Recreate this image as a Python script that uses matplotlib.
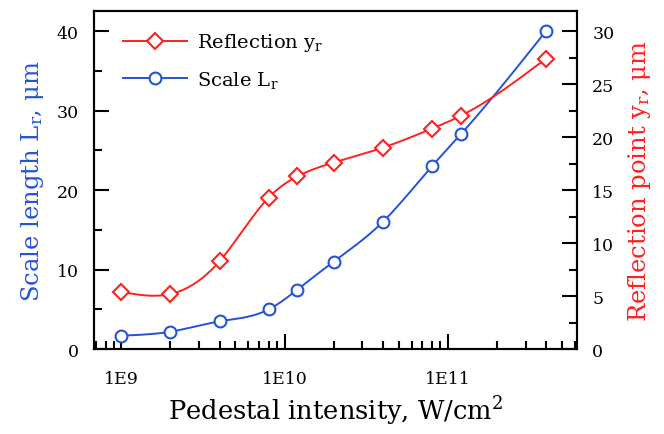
import numpy as np
import matplotlib
matplotlib.use('Agg')
import matplotlib.pyplot as plt
from matplotlib.ticker import LogLocator, FixedLocator, MultipleLocator, NullFormatter

# data
intensity = [1e9, 2e9, 4e9, 8e9, 1.2e10, 2e10, 4e10, 8e10, 1.2e11, 4e11]
scale_L = [1.7, 2.2, 3.5, 5.0, 7.5, 11.0, 16.0, 23.0, 27.0, 40.0]
refl_y = [5.4, 5.2, 8.3, 14.3, 16.3, 17.6, 19.0, 20.8, 22.0, 27.4]
xtick_vals = [1e9, 1e10, 1e11]
xtick_labels = ['1E9', '1E10', '1E11']

blue = '#2453d8'
red = '#ff2020'


def smooth(x, y, n=300):
    # natural cubic spline in log10(x), just for drawing the curve
    t = np.log10(np.asarray(x))
    y = np.asarray(y, dtype=float)
    m = len(t)
    h = np.diff(t)
    A = np.zeros((m, m))
    b = np.zeros(m)
    A[0, 0] = 1
    A[-1, -1] = 1
    for i in range(1, m - 1):
        A[i, i - 1] = h[i - 1]
        A[i, i] = 2 * (h[i - 1] + h[i])
        A[i, i + 1] = h[i]
        b[i] = 6 * ((y[i + 1] - y[i]) / h[i] - (y[i] - y[i - 1]) / h[i - 1])
    M = np.linalg.solve(A, b)
    tt = np.linspace(t[0], t[-1], n)
    k = np.clip(np.searchsorted(t, tt) - 1, 0, m - 2)
    dx1 = t[k + 1] - tt
    dx0 = tt - t[k]
    hk = h[k]
    yy = (M[k] * dx1 ** 3 / (6 * hk) + M[k + 1] * dx0 ** 3 / (6 * hk)
          + (y[k] / hk - M[k] * hk / 6) * dx1 + (y[k + 1] / hk - M[k + 1] * hk / 6) * dx0)
    return 10 ** tt, yy


plt.rcParams['font.family'] = 'DejaVu Serif'
plt.rcParams['mathtext.fontset'] = 'dejavuserif'

fig = plt.figure(figsize=(6.64, 4.35), dpi=100)
ax1 = fig.add_axes([0.1416, 0.195, 0.7274, 0.777])
ax2 = ax1.twinx()

mk = dict(mfc='white', mew=1.5)
xs, ys = smooth(intensity, scale_L)
ax1.plot(xs, ys, color=blue, lw=1.4)
ax1.plot(intensity, scale_L, ls='none', marker='o', ms=8.5, mec=blue, **mk)
ln_b, = ax1.plot([], [], color=blue, lw=1.4, marker='o', ms=8.5, mec=blue, **mk)

xs, ys = smooth(intensity, refl_y)
ax2.plot(xs, ys, color=red, lw=1.4)
ax2.plot(intensity, refl_y, ls='none', marker='D', ms=8.5, mec=red, **mk)
ln_r, = ax2.plot([], [], color=red, lw=1.4, marker='D', ms=8.5, mec=red, **mk)

ax1.set_xscale('log')
ax1.set_xlim(6.8e8, 6.2e11)
ax1.set_ylim(0, 42.5)
ax2.set_ylim(0, 31.875)

ax1.xaxis.set_major_locator(FixedLocator(xtick_vals))
ax1.set_xticklabels(xtick_labels)
ax1.xaxis.set_minor_locator(LogLocator(base=10, subs=np.arange(2, 10)))
ax1.xaxis.set_minor_formatter(NullFormatter())
ax1.yaxis.set_major_locator(MultipleLocator(10))
ax1.yaxis.set_minor_locator(MultipleLocator(5))
ax2.yaxis.set_major_locator(MultipleLocator(5))
ax2.yaxis.set_minor_locator(MultipleLocator(2.5))

for ax in (ax1, ax2):
    for s in ax.spines.values():
        s.set_linewidth(1.5)
    ax.tick_params(which='both', direction='in', labelsize=12.5, width=1.5, top=False)
    ax.tick_params(which='major', length=10.5)
    ax.tick_params(which='minor', length=5.5)
ax1.tick_params(axis='y', right=False, pad=11)
ax2.tick_params(axis='y', left=False, pad=11)
ax1.tick_params(axis='x', pad=15)

ax1.set_xlabel('Pedestal intensity, W/cm$^2$', fontsize=18.5, labelpad=5)
ax1.set_ylabel('Scale length L$_\\mathrm{r}$, μm', fontsize=17.5, color=blue, labelpad=8)
ax2.set_ylabel('Reflection point y$_\\mathrm{r}$, μm', fontsize=17.5, color=red, labelpad=8)

ax1.legend([ln_r, ln_b], ['Reflection y$_\\mathrm{r}$', 'Scale L$_\\mathrm{r}$'],
           loc='upper left', frameon=False, fontsize=14, handlelength=3.3,
           handletextpad=0.5, borderaxespad=0, borderpad=0, labelspacing=0.8,
           bbox_to_anchor=(0.06, 0.94))

fig.savefig('out.png', dpi=100)
